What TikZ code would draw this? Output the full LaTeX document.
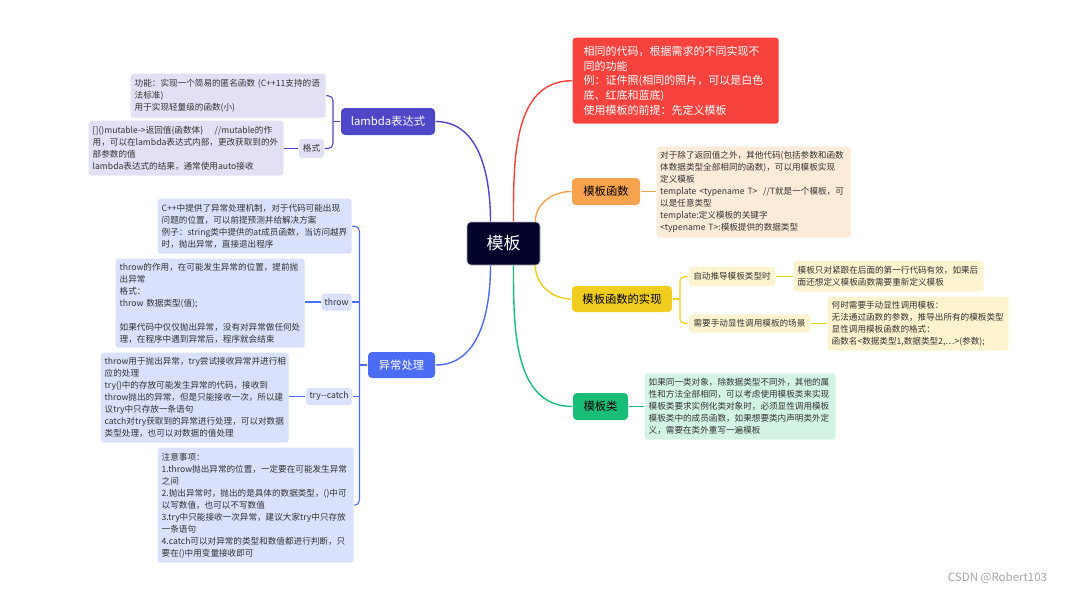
\documentclass[tikz,border=0pt]{standalone}
\usepackage{fontspec}
\setmainfont{Noto Sans CJK SC}
\usetikzlibrary{calc, positioning}
\definecolor{rootc}{HTML}{02022A}
\definecolor{redc}{HTML}{F8423D}
\definecolor{orangec}{HTML}{F7A24D}
\definecolor{orangel}{HTML}{FDEBDA}
\definecolor{yellowc}{HTML}{F0CD1E}
\definecolor{yellowl}{HTML}{FDF4CF}
\definecolor{greenc}{HTML}{18BE78}
\definecolor{greenl}{HTML}{D3F3E4}
\definecolor{indigoc}{HTML}{4F46C8}
\definecolor{indigol}{HTML}{E2E0F5}
\definecolor{bluec}{HTML}{4D6CF6}
\definecolor{bluel}{HTML}{D9E1FD}

\begin{document}
\begin{tikzpicture}[x=1pt, y=-1pt, line width=1.4pt,
    rootbox/.style={rectangle, rounded corners=4pt, fill=rootc, draw=gray!60, line width=0.6pt, text=white, font=\fontsize{17}{20}\selectfont, minimum width=73pt, minimum height=43pt, inner sep=0pt},
    topicbox/.style={rectangle, rounded corners=4pt, font=\fontsize{11.3}{14}\selectfont, inner sep=0pt},
    tagbox/.style={rectangle, rounded corners=3pt, font=\fontsize{8.6}{12}\selectfont, text=black!80, inner sep=0pt},
    notebox/.style={rectangle, rounded corners=3pt, anchor=north west, align=left, font=\fontsize{8.6}{12}\selectfont, text=black!80, inner xsep=4pt, inner ysep=0pt}]
        \useasboundingbox (0,0) rectangle (1076,594);

        \node[rootbox] (root) at (503.5,243.5) {模板};

        % right side
        \node[notebox, fill=redc, text=white, font=\fontsize{11}{14.7}\selectfont, inner xsep=11pt, text width=184pt, minimum height=86pt] (tpluse) at (572,37) {相同的代码，根据需求的不同实现不\\同的功能\\例：证件照(相同的照片，可以是白色\\底、红底和蓝底)\\使用模板的前提：先定义模板};

        \node[topicbox, fill=orangec, minimum width=68pt, minimum height=27pt] (tplfunc) at (606,191.5) {模板函数};
        \node[notebox, fill=orangel, inner xsep=3.5pt, text width=187pt, minimum height=91pt] (funcnote) at (656,146) {对于除了返回值之外，其他代码(包括参数和函数\\体数据类型全部相同的函数)，可以用模板实现\\定义模板\\template <typename T>\ \ //T就是一个模板，可\\以是任意类型\\template:定义模板的关键字\\<typename T>:模板提供的数据类型};

        \node[topicbox, fill=yellowc, minimum width=100pt, minimum height=26pt] (impl) at (622,299) {模板函数的实现};
        \node[tagbox, fill=yellowl, minimum width=86pt, minimum height=19pt] (implauto) at (732,276.5) {自动推导模板类型时};
        \node[notebox, fill=yellowl, text width=182pt, minimum height=31pt] (autonote) at (793,260) {模板只对紧跟在后面的第一行代码有效，如果后\\面还想定义模板函数需要重新定义模板};
        \node[tagbox, fill=yellowl, minimum width=121pt, minimum height=18pt] (implman) at (749.5,323.5) {需要手动显性调用模板的场景};
        \node[notebox, fill=yellowl, text width=173pt, minimum height=54pt] (mannote) at (827,296) {何时需要手动显性调用模板：\\无法通过函数的参数，推导出所有的模板类型\\显性调用模板函数的格式：\\函数名<数据类型1,数据类型2,…>(参数);};
        \coordinate (implfork) at (680,299);

        \node[topicbox, fill=greenc, minimum width=55pt, minimum height=27pt] (tplclass) at (600.5,406.5) {模板类};
        \node[notebox, fill=greenl, text width=183pt, minimum height=66pt] (classnote) at (644,373) {如果同一类对象，除数据类型不同外，其他的属\\性和方法全部相同，可以考虑使用模板类来实现\\模板类要求实例化类对象时，必须显性调用模板\\模板类中的成员函数，如果想要类内声明类外定\\义，需要在类外重写一遍模板};

        % left side
        \node[topicbox, fill=indigoc, text=white, minimum width=94pt, minimum height=27pt] (lambda) at (388,121.5) {lambda表达式};
        \node[notebox, fill=indigol, text width=187pt, minimum height=44pt] (lamnote) at (130,73) {功能：实现一个简易的匿名函数 (C++11支持的语\\法标准)\\用于实现轻量级的函数(小)};
        \node[tagbox, fill=indigol, minimum width=25pt, minimum height=19pt] (lamfmt) at (311.5,148.5) {格式};
        \node[notebox, fill=indigol, text width=187pt, minimum height=55pt] (fmtnote) at (88,120) {[]()mutable->返回值\{函数体\}\ \ \ \ //mutable的作\\用，可以在lambda表达式内部，更改获取到的外\\部参数的值\\lambda表达式的结果，通常使用auto接收};
        \coordinate (lamfork) at (333,121.5);

        \node[topicbox, fill=bluec, text=white, minimum width=67pt, minimum height=26pt] (exc) at (401.5,365) {异常处理};
        \node[notebox, fill=bluel, text width=186pt, minimum height=55pt] (excnote) at (157,198) {C++中提供了异常处理机制，对于代码可能出现\\问题的位置，可以前提预测并给解决方案\\例子：string类中提供的at成员函数，当访问越界\\时，抛出异常，直接退出程序};
        \node[tagbox, fill=bluel, minimum width=30pt, minimum height=17pt] (excthrow) at (336.5,302) {throw};
        \node[notebox, fill=bluel, text width=181pt, minimum height=89pt] (thrownote) at (115,258) {throw的作用，在可能发生异常的位置，提前抛\\出异常\\格式：\\throw 数据类型(值);\\\mbox{}\\如果代码中仅仅抛出异常，没有对异常做任何处\\理，在程序中遇到异常后，程序就会结束};
        \node[tagbox, fill=bluel, minimum width=46pt, minimum height=17pt] (exctry) at (329,396.5) {try-{}-catch};
        \node[notebox, fill=bluel, text width=180pt, minimum height=90pt] (trynote) at (100,352) {throw用于抛出异常，try尝试接收异常并进行相\\应的处理\\try\{\}中的存放可能发生异常的代码，接收到\\throw抛出的异常，但是只能接收一次，所以建\\议try中只存放一条语句\\catch对try获取到的异常进行处理，可以对数据\\类型处理，也可以对数据的值处理};
        \node[notebox, fill=bluel, text width=188pt, minimum height=115pt] (exctip) at (157,447) {注意事项：\\1.throw抛出异常的位置，一定要在可能发生异常\\之间\\2.抛出异常时，抛出的是具体的数据类型，()中可\\以写数值，也可以不写数值\\3.try中只能接收一次异常，建议大家try中只存放\\一条语句\\4.catch可以对异常的类型和数值都进行判断，只\\要在()中用变量接收即可};
        \coordinate (excfork) at (359.5,365);

        \node[text=gray!70, font=\fontsize{11.5}{13}\selectfont] (mark) at (997.5,578) {CSDN @Robert103};

        % branches from the root
        \draw[redc] ([xshift=10pt]root.north) to[out=90, in=180] (tpluse.west);
        \draw[orangec] ([xshift=-5pt]root.north east) to[out=90, in=180] (tplfunc.west);
        \draw[yellowc] ([xshift=-5pt]root.south east) to[out=-90, in=180] (impl.west);
        \draw[greenc] ([xshift=10pt]root.south) to[out=-90, in=180] (tplclass.west);
        \draw[indigoc] ([xshift=-13pt]root.north) to[out=90, in=0] (lambda.east);
        \draw[bluec] ([xshift=-13pt]root.south) to[out=-90, in=0] (exc.east);

        % sub branches
        \draw[orangec, line width=1.1pt] (tplfunc.east) -- (funcnote.west |- tplfunc.east);
        \draw[yellowc, line width=1.1pt] (impl.east) -- (implfork);
        \draw[yellowc, line width=1.1pt, rounded corners=5pt] (implauto.west) -| (implfork) |- (implman.west);
        \draw[yellowc, line width=1.1pt] (implauto.east) -- (autonote.west |- implauto.east);
        \draw[yellowc, line width=1.1pt] (implman.east) -- (mannote.west |- implman.east);
        \draw[greenc, line width=1.1pt] (tplclass.east) -- (classnote.west |- tplclass.east);

        \draw[indigoc, line width=1.1pt] (lambda.west) -- (lamfork);
        \draw[indigoc, line width=1.1pt, rounded corners=5pt] (lamnote.east) -| (lamfork) |- (lamfmt.east);
        \draw[indigoc, line width=1.1pt] (lamfmt.west) -- (fmtnote.east |- lamfmt.west);

        \draw[bluec, line width=1.1pt] (exc.west) -- (excfork);
        \draw[bluec, line width=1.1pt, rounded corners=5pt] (excnote.east) -| (excfork) |- (exctip.east);
        \draw[bluec, line width=1.1pt] (excthrow.east) -- (excthrow.east -| excfork);
        \draw[bluec, line width=1.1pt] (exctry.east) -- (exctry.east -| excfork);
        \draw[bluec, line width=1.1pt] (excthrow.west) -- (thrownote.east |- excthrow.west);
        \draw[bluec, line width=1.1pt] (exctry.west) -- (trynote.east |- exctry.west);
    \end{tikzpicture}
\end{document}
